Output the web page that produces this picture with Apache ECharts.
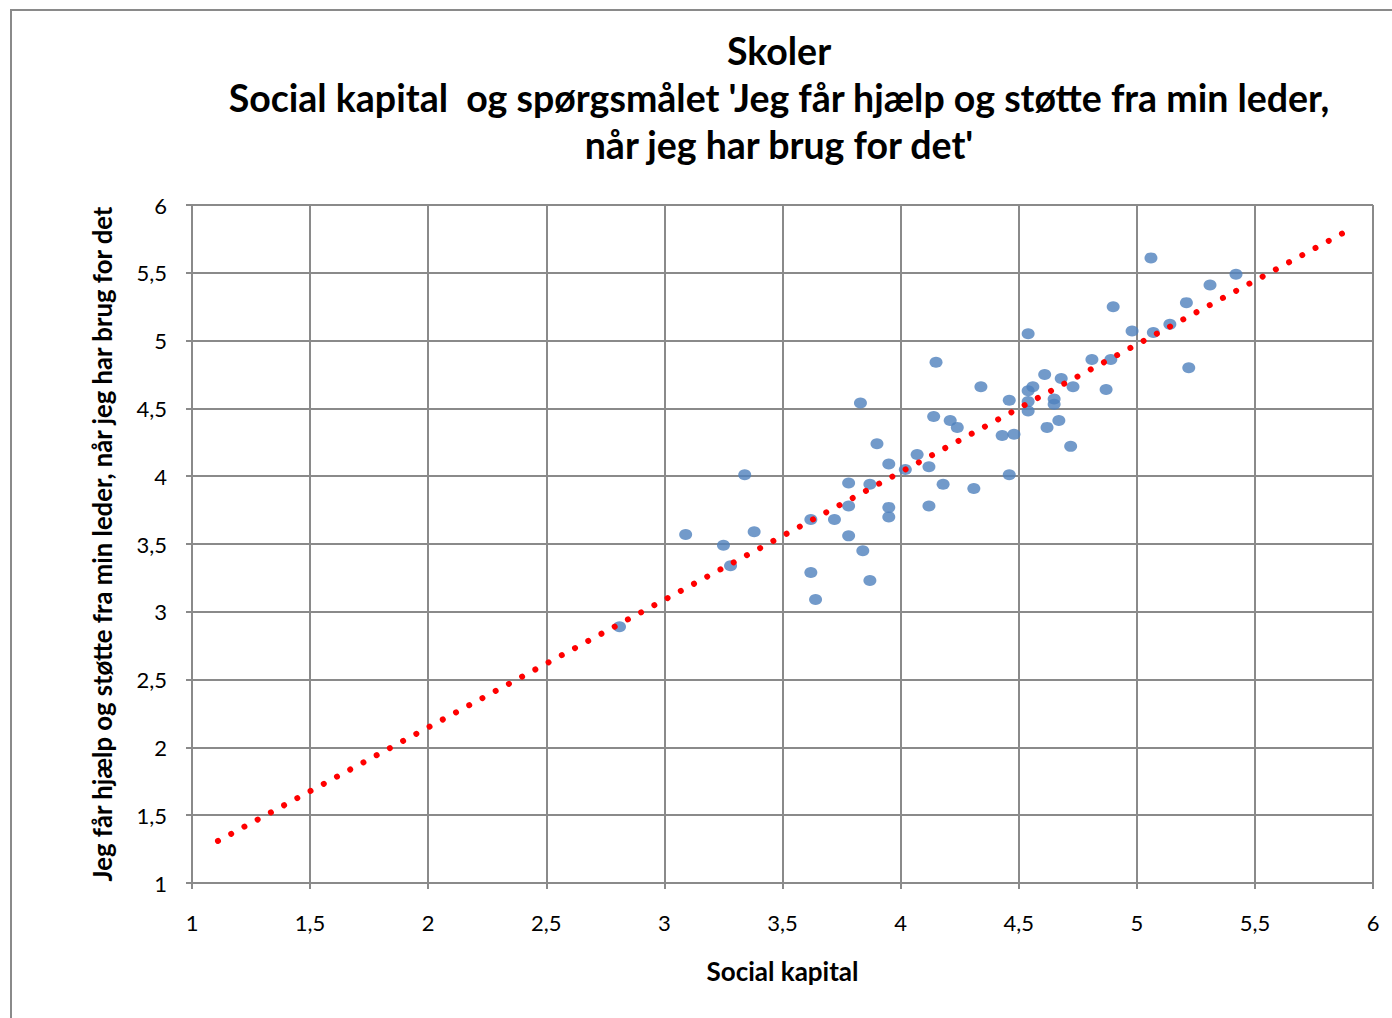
<!DOCTYPE html>
<html>
<head>
<meta charset="utf-8">
<script src="https://cdn.jsdelivr.net/npm/echarts@6/dist/echarts.min.js"></script>
<style>
html,body{margin:0;padding:0;background:#fff;}
#chart{width:1392px;height:1018px;}
</style>
</head>
<body>
<div id="chart"></div>
<script>
// Social kapital (x) per school
const socialKapital = [2.81,3.09,3.25,3.28,3.34,3.38,3.62,3.64,3.62,3.72,3.78,3.78,3.78,3.83,3.84,3.87,3.87,3.90,3.95,3.95,3.95,4.02,4.07,4.12,4.12,4.14,4.15,4.18,4.21,4.24,4.31,4.34,4.43,4.46,4.46,4.48,4.54,4.54,4.54,4.54,4.56,4.61,4.62,4.65,4.65,4.67,4.68,4.72,4.73,4.81,4.87,4.89,4.90,4.98,5.06,5.07,5.14,5.21,5.22,5.31,5.42];
// 'Jeg får hjælp og støtte fra min leder...' (y) per school
const hjaelpStoette = [2.89,3.57,3.49,3.34,4.01,3.59,3.29,3.09,3.68,3.68,3.95,3.78,3.56,4.54,3.45,3.94,3.23,4.24,4.09,3.77,3.70,4.05,4.16,4.07,3.78,4.44,4.84,3.94,4.41,4.36,3.91,4.66,4.30,4.01,4.56,4.31,5.05,4.63,4.55,4.48,4.66,4.75,4.36,4.57,4.53,4.41,4.72,4.22,4.66,4.86,4.64,4.86,5.25,5.07,5.61,5.06,5.12,5.28,4.80,5.41,5.49];
// Linear trendline endpoints (as drawn)
const trendX = [1.11, 5.87];
const trendY = [1.31, 5.79];
// Axis ticks
const xTicks = [1,1.5,2,2.5,3,3.5,4,4.5,5,5.5,6];
const yTicks = [1,1.5,2,2.5,3,3.5,4,4.5,5,5.5,6];
const titleLines = ["Skoler","Social kapital  og spørgsmålet 'Jeg får hjælp og støtte fra min leder,","når jeg har brug for det'"];
const xName = "Social kapital";
const yName = "Jeg får hjælp og støtte fra min leder, når jeg har brug for det";

const fmt = v => String(v).replace('.', ',');
const gridColor = '#8a8a8a';
const FONT = 'Lato';

const chart = echarts.init(document.getElementById('chart'), null, {renderer:'svg'});
chart.setOption({
  backgroundColor:'#fff',
  animation:false,
  title:{
    text: titleLines.join('\n'),
    left: 774, top: 22, textAlign:'center',
    textStyle:{fontFamily:FONT,fontWeight:'bold',fontSize:37.5,lineHeight:47,color:'#000'}
  },
  graphic:[{type:'rect',shape:{x:11,y:10,width:1420,height:1040},style:{fill:null,stroke:'#8a8a8a',lineWidth:2},silent:true}],
  grid:{left:192,right:19,top:205,bottom:135},
  xAxis:{
    type:'value',min:xTicks[0],max:xTicks[xTicks.length-1],interval:0.5,
    name:xName,nameLocation:'middle',nameGap:75,
    nameTextStyle:{fontFamily:FONT,fontWeight:'bold',fontSize:26,color:'#000'},
    axisLine:{show:true,lineStyle:{color:gridColor,width:2}},
    axisTick:{show:true,inside:false,length:6,lineStyle:{color:gridColor,width:2}},
    axisLabel:{formatter:fmt,margin:28,fontFamily:FONT,fontSize:22,color:'#000'},
    splitLine:{show:true,lineStyle:{color:gridColor,width:2}}
  },
  yAxis:{
    type:'value',min:yTicks[0],max:yTicks[yTicks.length-1],interval:0.5,
    name:yName,nameLocation:'middle',nameGap:77,nameRotate:90,
    nameTextStyle:{fontFamily:FONT,fontWeight:'bold',fontSize:25.7,color:'#000'},
    axisLine:{show:true,lineStyle:{color:gridColor,width:2}},
    axisTick:{show:true,inside:false,length:6,lineStyle:{color:gridColor,width:2}},
    axisLabel:{formatter:fmt,margin:25,fontFamily:FONT,fontSize:22,color:'#000'},
    splitLine:{show:true,lineStyle:{color:gridColor,width:2}}
  },
  series:[
    {
      type:'scatter',
      data: socialKapital.map((x,i)=>[x,hjaelpStoette[i]]),
      symbol:'circle',symbolSize:[13,11],
      itemStyle:{color:'#4F81BD'},
      z:2
    },
    {
      type:'line',
      data: trendX.map((x,i)=>[x,trendY[i]]),
      showSymbol:false,symbol:'none',
      lineStyle:{color:'#FF0000',width:6,type:[0.01,15.02],cap:'round'},
      z:3
    }
  ]
});
</script>
</body>
</html>
